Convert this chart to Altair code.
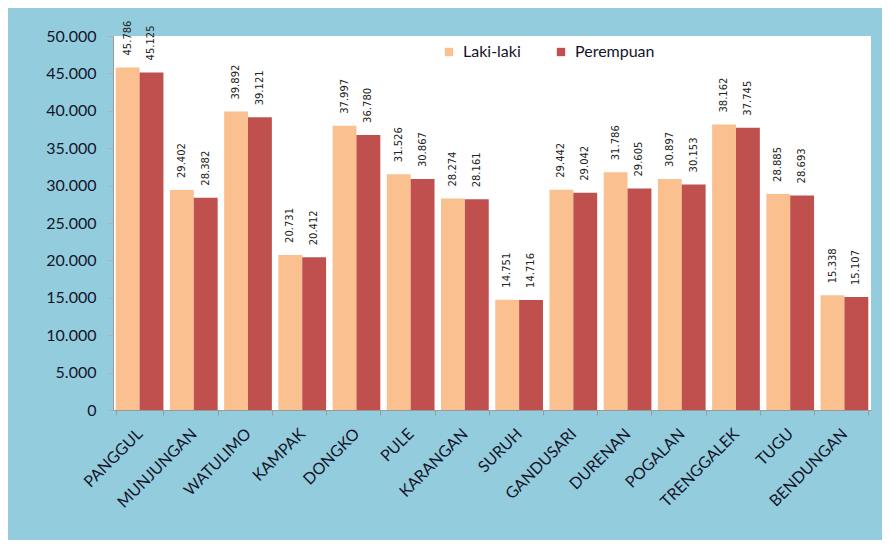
import altair as alt
import pandas as pd

categories = ["PANGGUL", "MUNJUNGAN", "WATULIMO", "KAMPAK", "DONGKO", "PULE", "KARANGAN",
              "SURUH", "GANDUSARI", "DURENAN", "POGALAN", "TRENGGALEK", "TUGU", "BENDUNGAN"]
laki_laki = [45786, 29402, 39892, 20731, 37997, 31526, 28274, 14751, 29442, 31786, 30897, 38162, 28885, 15338]
perempuan = [45125, 28382, 39121, 20412, 36780, 30867, 28161, 14716, 29042, 29605, 30153, 37745, 28693, 15107]
series = ["Laki-laki", "Perempuan"]
colors = ["#FAC090", "#C0504D"]
y_ticks = [0, 5000, 10000, 15000, 20000, 25000, 30000, 35000, 40000, 45000, 50000]

rows = []
for i, c in enumerate(categories):
    rows.append({"kec": c, "jenis": series[0], "value": laki_laki[i], "order": 0})
    rows.append({"kec": c, "jenis": series[1], "value": perempuan[i], "order": 1})
df = pd.DataFrame(rows)

FONT = "Lato"

x_enc = alt.X("kec:N", sort=categories, title=None,
              scale=alt.Scale(paddingInner=0.12, paddingOuter=0.05),
              axis=alt.Axis(labelAngle=-45, labelAlign="right", labelBaseline="middle",
                            labelPadding=16, labelFontSize=16, labelFont=FONT,
                            labelColor="#14142a", tickBand="extent", tickSize=5,
                            tickColor="#9a9a9a", domainColor="#9a9a9a",
                            labelOverlap=False))
xo_enc = alt.XOffset("jenis:N", sort=series,
                     scale=alt.Scale(paddingInner=0, paddingOuter=0))
y_enc = alt.Y("value:Q", title=None,
              scale=alt.Scale(domain=[0, 50000], nice=False),
              axis=alt.Axis(values=y_ticks, grid=False, labelOverlap=False,
                            tickCount=11,
                            labelExpr="replace(format(datum.value, ','), ',', '.')",
                            labelFontSize=16, labelFont=FONT, labelColor="#14142a",
                            labelPadding=12, tickSize=5, tickColor="#b0b0b0",
                            domainColor="#9a9a9a"))

base = alt.Chart(df).encode(x=x_enc, xOffset=xo_enc, y=y_enc)

bars = base.mark_bar().encode(
    color=alt.Color("jenis:N", sort=series,
                    scale=alt.Scale(domain=series, range=colors),
                    legend=alt.Legend(title=None, orient="none", direction="horizontal",
                                      legendX=328, legendY=8, symbolType="square",
                                      symbolSize=70, symbolStrokeWidth=0,
                                      labelFont=FONT, labelFontSize=16,
                                      labelColor="#14142a", columnPadding=32,
                                      symbolOffset=0, labelOffset=6)),
)

labels = base.mark_text(angle=270, align="left", baseline="middle", dx=12,
                        font="DejaVu Sans", fontSize=10, color="#222222").encode(
    text=alt.Text("label:N"),
).transform_calculate(label="replace(format(datum.value, ','), ',', '.')")

chart = alt.layer(bars, labels).properties(
    width=758, height=374,
    autosize=alt.AutoSizeParams(type="none"),
    padding={"left": 105, "top": 28, "right": 11, "bottom": 130},
    background="#93CDDD",
).configure_view(fill="white", strokeWidth=0)

chart.save("out.html", embed_options={"renderer": "svg", "actions": False})
